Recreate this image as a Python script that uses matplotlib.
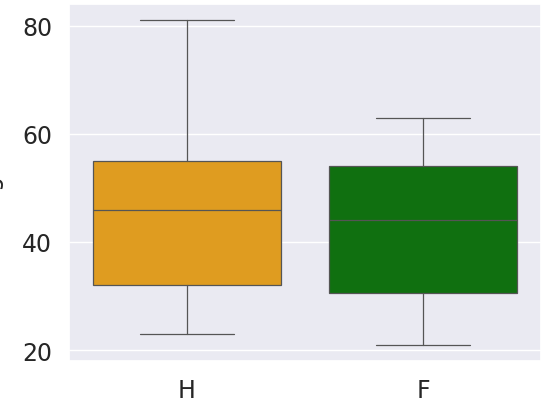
import matplotlib
matplotlib.use('Agg')
import matplotlib.pyplot as plt
import seaborn as sns

groups = ['H', 'F']
whislo = [23, 21]
q1 = [32, 30.5]
med = [46, 44]
q3 = [55, 54]
whishi = [81, 63]
box_colors = ['#df9c20', '#107010']

sns.set_theme(style='darkgrid', font_scale=1.6)
plt.rcParams['font.family'] = ['DejaVu Sans']

fig = plt.figure(figsize=(5.41, 4.02), dpi=100)
ax = fig.add_axes([69 / 541, 40 / 402, 472 / 541, 357 / 402])

stats = []
for i, g in enumerate(groups):
    stats.append({'label': g, 'whislo': whislo[i], 'q1': q1[i], 'med': med[i],
                  'q3': q3[i], 'whishi': whishi[i], 'fliers': []})

lc = '#555555'
bp = ax.bxp(stats, positions=range(len(groups)), widths=0.8, patch_artist=True,
            showfliers=False,
            boxprops=dict(edgecolor=lc, linewidth=0.9),
            whiskerprops=dict(color=lc, linewidth=0.9),
            capprops=dict(color=lc, linewidth=0.9),
            medianprops=dict(color=lc, linewidth=0.9),
            capwidths=0.4)
for patch, c in zip(bp['boxes'], box_colors):
    patch.set_facecolor(c)

ax.set_xlim(-0.5, 1.5)
ax.set_ylim(18, 84)
ax.set_yticks([20, 40, 60, 80])
ax.set_xticks(range(len(groups)))
ax.set_xticklabels(groups)
ax.grid(False, axis='x')
ax.tick_params(axis='both', labelsize=17, pad=6)
ax.set_ylabel('Age', fontsize=17, labelpad=13)

plt.savefig('out.png', dpi=100)
